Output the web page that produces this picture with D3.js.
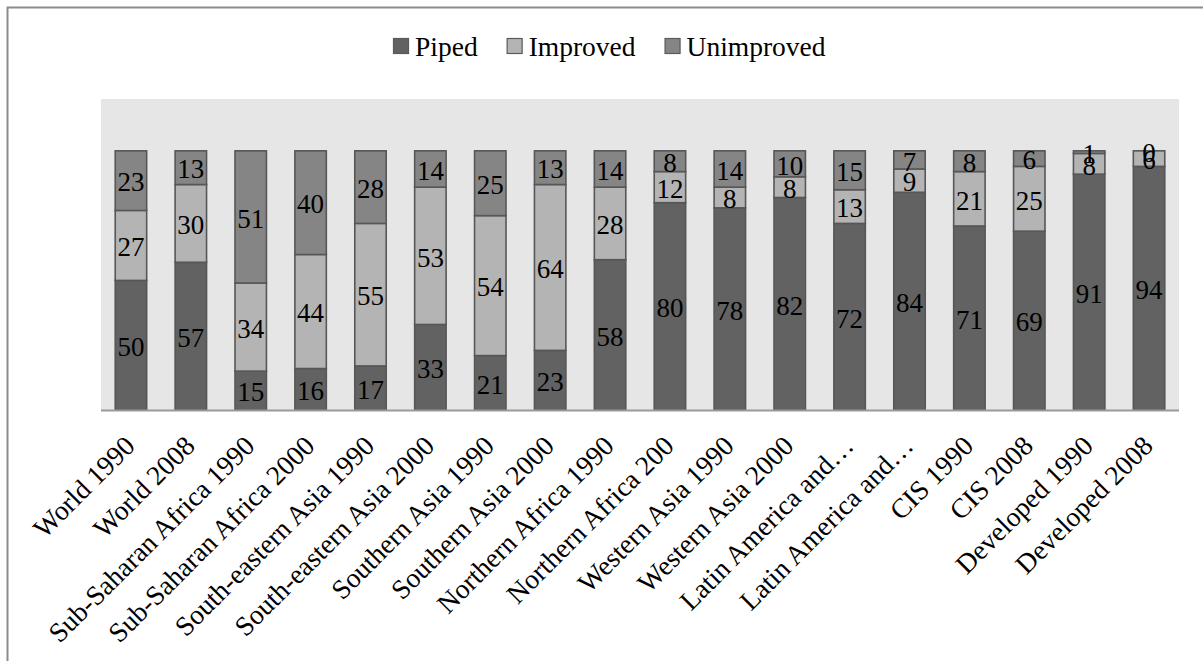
<!DOCTYPE html>
<html lang="en">
<head>
<meta charset="utf-8">
<title>Water source by region</title>
<script src="https://cdn.jsdelivr.net/npm/d3@7"></script>
<style>
  html, body { margin: 0; padding: 0; background: #fff; }
  svg { display: block; }
  text { font-family: "Liberation Serif", "Times New Roman", serif; fill: #000; }
</style>
</head>
<body>
<svg id="chart" width="1203" height="661"></svg>
<script type="text/javascript">
// category labels, as printed under the bars
var categories = [
  "World 1990", "World 2008",
  "Sub-Saharan Africa 1990", "Sub-Saharan Africa 2000",
  "South-eastern Asia 1990", "South-eastern Asia 2000",
  "Southern Asia 1990", "Southern Asia 2000",
  "Northern Africa 1990", "Northern Africa 200",
  "Western Asia 1990", "Western Asia 2000",
  "Latin America and\u2026", "Latin America and\u2026 ",
  "CIS 1990", "CIS 2008",
  "Developed 1990", "Developed 2008"
];

var seriesNames = ["Piped", "Improved", "Unimproved"];

// percentages per category
var piped      = [50, 57, 15, 16, 17, 33, 21, 23, 58, 80, 78, 82, 72, 84, 71, 69, 91, 94];
var improved   = [27, 30, 34, 44, 55, 53, 54, 64, 28, 12,  8,  8, 13,  9, 21, 25,  8,  6];
var unimproved = [23, 13, 51, 40, 28, 14, 25, 13, 14,  8, 14, 10, 15,  7,  8,  6,  1,  0];

var seriesColors = ["#626262", "#b4b4b4", "#858585"];

//////////////////////////////////////
var svg = d3.select("#chart");
var fontSize = 27.5;

var plot = { left: 101, right: 1179, top: 99, bottom: 410 };

// outer chart frame (only the top and left edges fall inside the window)
svg.append("rect")
  .attr("x", 7.5).attr("y", 7.5)
  .attr("width", 1300).attr("height", 800)
  .attr("fill", "none").attr("stroke", "#8c8c8c").attr("stroke-width", 2);

// plot area background
svg.append("rect")
  .attr("x", plot.left).attr("y", plot.top)
  .attr("width", plot.right - plot.left).attr("height", plot.bottom - plot.top)
  .attr("fill", "#e6e6e6");

var x = d3.scaleBand()
  .domain(categories)
  .range([plot.left, plot.right])
  .paddingInner(0.475)
  .paddingOuter(0.2375);

var y = d3.scaleLinear()
  .domain([0, 120])
  .range([plot.bottom, plot.top]);

// build stack table from the arrays
var table = categories.map(function(c, i) {
  return { cat: c, Piped: piped[i], Improved: improved[i], Unimproved: unimproved[i] };
});
var stacked = d3.stack().keys(seriesNames)(table);

var layer = svg.selectAll(".layer")
  .data(stacked)
  .enter().append("g")
  .attr("class", "layer")
  .attr("fill", function(d, i) { return seriesColors[i]; });

layer.selectAll("rect")
  .data(function(d) { return d; })
  .enter().append("rect")
  .attr("x", function(d) { return x(d.data.cat); })
  .attr("y", function(d) { return y(d[1]); })
  .attr("width", x.bandwidth())
  .attr("height", function(d) { return y(d[0]) - y(d[1]); })
  .attr("stroke", "#575757")
  .attr("stroke-width", 1.6);

// bottom axis line
svg.append("line")
  .attr("x1", plot.left).attr("x2", plot.right)
  .attr("y1", plot.bottom + 0.5).attr("y2", plot.bottom + 0.5)
  .attr("stroke", "#9a9a9a").attr("stroke-width", 2);

// data labels, centred in each segment
layer.selectAll("text")
  .data(function(d) { return d; })
  .enter().append("text")
  .attr("x", function(d) { return x(d.data.cat) + x.bandwidth() / 2; })
  .attr("y", function(d) { return y((d[0] + d[1]) / 2); })
  .attr("dy", "0.4em")
  .attr("text-anchor", "middle")
  .style("font-size", "27px")
  .text(function(d) { return d[1] - d[0]; });

// rotated category labels
svg.selectAll(".xlab")
  .data(categories)
  .enter().append("text")
  .attr("class", "xlab")
  .attr("text-anchor", "end")
  .attr("dy", "0.85em")
  .attr("transform", function(d) {
    return "translate(" + (x(d) + x.bandwidth() / 2 - 11) + "," + 431 + ") rotate(-45)";
  })
  .style("font-size", fontSize + "px")
  .text(function(d) { return d.trim(); });

// legend
var legend = svg.append("g").attr("class", "legend");
var lx = 393;
seriesNames.forEach(function(name, i) {
  legend.append("rect")
    .attr("x", lx + 0.5).attr("y", 38.5)
    .attr("width", 15).attr("height", 15)
    .attr("fill", seriesColors[i])
    .attr("stroke", "#5a5a5a").attr("stroke-width", 1.2);
  var t = legend.append("text")
    .attr("x", lx + 22).attr("y", 55.5)
    .style("font-size", fontSize + "px")
    .text(name);
  lx = lx + 22 + t.node().getComputedTextLength() + 29;
});
</script>
</body>
</html>
